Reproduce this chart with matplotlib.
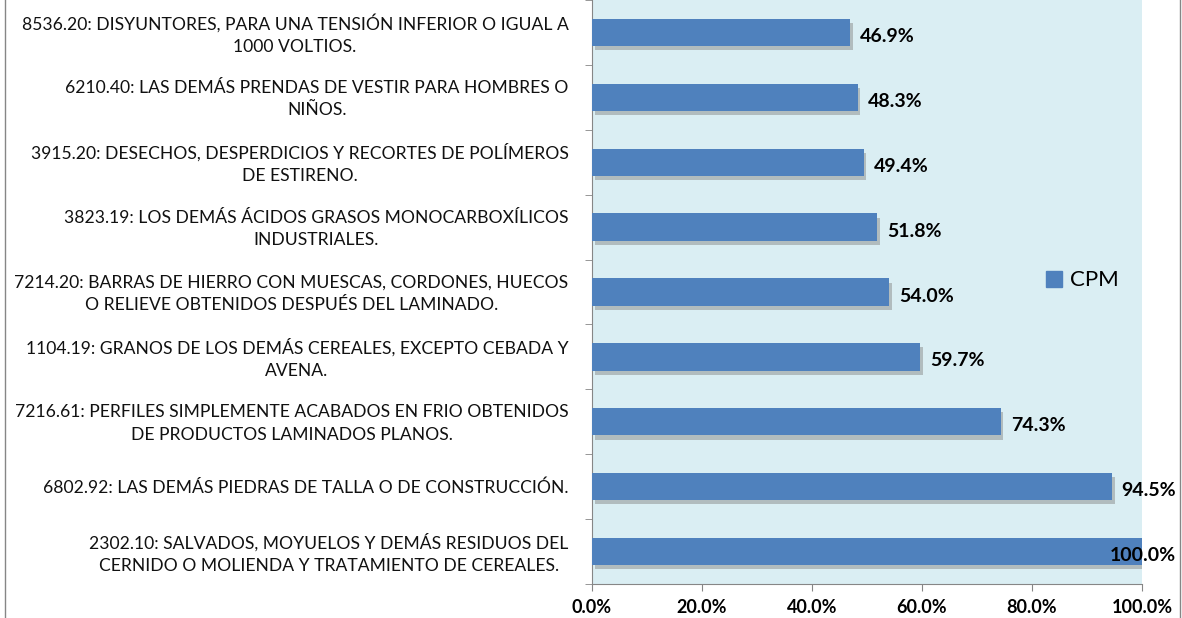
import matplotlib

matplotlib.use("Agg")
import matplotlib.pyplot as plt
import matplotlib.patheffects as pe
import matplotlib.transforms as mtransforms
from matplotlib.lines import Line2D
import numpy as np

plt.rcParams["font.family"] = ["Lato", "DejaVu Sans"]

# top to bottom, as in the picture
categories = [
    "8536.20: DISYUNTORES, PARA UNA TENSIÓN INFERIOR O IGUAL A\n1000 VOLTIOS.",
    "6210.40: LAS DEMÁS PRENDAS DE VESTIR PARA HOMBRES O\nNIÑOS.",
    "3915.20: DESECHOS, DESPERDICIOS Y RECORTES DE POLÍMEROS\nDE ESTIRENO.",
    "3823.19: LOS DEMÁS ÁCIDOS GRASOS MONOCARBOXÍLICOS\nINDUSTRIALES.",
    "7214.20: BARRAS DE HIERRO CON MUESCAS, CORDONES, HUECOS\nO RELIEVE OBTENIDOS DESPUÉS DEL LAMINADO.",
    "1104.19: GRANOS DE LOS DEMÁS CEREALES, EXCEPTO CEBADA Y\nAVENA.",
    "7216.61: PERFILES SIMPLEMENTE ACABADOS EN FRIO OBTENIDOS\nDE PRODUCTOS LAMINADOS PLANOS.",
    "6802.92: LAS DEMÁS PIEDRAS DE TALLA O DE CONSTRUCCIÓN.",
    "2302.10: SALVADOS, MOYUELOS Y DEMÁS RESIDUOS DEL\nCERNIDO O MOLIENDA Y TRATAMIENTO DE CEREALES.",
]
cpm = [46.9, 48.3, 49.4, 51.8, 54.0, 59.7, 74.3, 94.5, 100.0]
x_ticks = [0, 20, 40, 60, 80, 100]

W, H = 1182, 618
fig = plt.figure(figsize=(W / 100, H / 100), dpi=100)
ax = fig.add_axes([592 / W, 34 / H, 550 / W, 584 / H])
ax.set_facecolor("#DAEEF3")

y = np.arange(len(categories))
bars = ax.barh(y, cpm, height=0.42, color="#4F81BD", label="CPM", zorder=3)
for b in bars:
    b.set_path_effects([pe.SimplePatchShadow(offset=(2, -3), shadow_rgbFace="#7f7f7f", alpha=0.45),
                        pe.Normal()])

ax.set_xlim(0, 100)
ax.set_ylim(len(categories) - 0.5, -0.5)

for yi, v in zip(y, cpm):
    if v >= 99.9:
        ax.annotate(f"{v:.1f}%", xy=(v, yi), xytext=(34, -4), textcoords="offset pixels",
                    ha="right", va="center", fontsize=14, fontweight="bold", zorder=5,
                    annotation_clip=False)
    else:
        ax.annotate(f"{v:.1f}%", xy=(v, yi), xytext=(10, -4), textcoords="offset pixels",
                    ha="left", va="center", fontsize=14, fontweight="bold", zorder=5)

ax.set_yticks(y)
ax.set_yticklabels(categories, fontsize=12.6, multialignment="center", color="#111111",
                   linespacing=1.5)
ax.tick_params(axis="y", length=0, pad=17)
ax.set_yticks(np.arange(len(categories) + 1) - 0.5, minor=True)
ax.tick_params(axis="y", which="minor", length=5, color="#868686", direction="out")

# two-line labels sit a touch high in the original
shift = mtransforms.ScaledTranslation(0, 3 / 100, fig.dpi_scale_trans)
for lbl in ax.get_yticklabels():
    if "\n" in lbl.get_text():
        lbl.set_transform(lbl.get_transform() + shift)

ax.set_xticks(x_ticks)
ax.set_xticklabels([f"{t:.1f}%" for t in x_ticks], fontsize=13, fontweight="bold")
ax.tick_params(axis="x", length=5, color="#868686", pad=6)

for side in ("top", "right"):
    ax.spines[side].set_visible(False)
for side in ("left", "bottom"):
    ax.spines[side].set_color("#868686")

ax.legend(handles=[Line2D([], [], marker="s", linestyle="", markersize=12,
                          color="#4F81BD", label="CPM")],
          loc="center left", bbox_to_anchor=(0.8, 0.52), frameon=False,
          fontsize=16, handletextpad=0.1, handlelength=1.2, borderaxespad=0)

# outer chart border
for xpix in (5, 1180):
    fig.add_artist(Line2D([xpix / W, xpix / W], [0, 1], color="#868686", lw=1))

fig.savefig("out.png", dpi=100)
